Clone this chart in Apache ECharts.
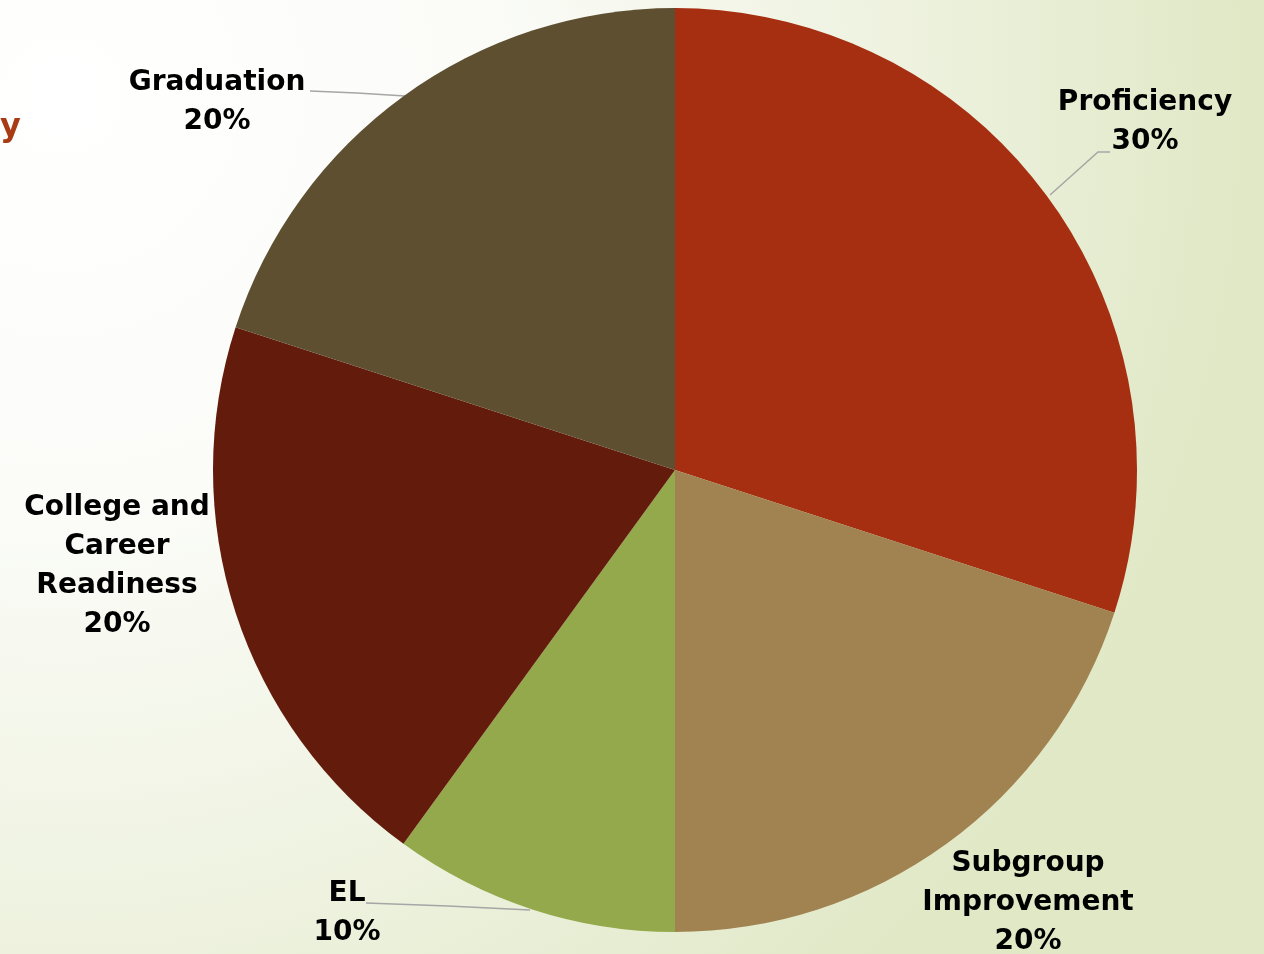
<!DOCTYPE html>
<html><head><meta charset="utf-8">
<script src="https://cdn.jsdelivr.net/npm/echarts@6/dist/echarts.min.js"></script>
<style>html,body{margin:0;padding:0;}#c{width:1264px;height:954px;}</style>
</head><body><div id="c"></div>
<script>
const categories = ['Proficiency', 'Subgroup\nImprovement', 'EL', 'College and\nCareer\nReadiness', 'Graduation'];
const values = [30, 20, 10, 20, 20];
const colors = ['#A52F10', '#A08350', '#93A94C', '#631B0C', '#5E4F31'];
const showLines = [true, false, true, false, true];
const labelPos = [[1145, 122], [1028, 903], [347, 913], [117, 566], [217, 102]];
const linePts = [
  [[1050, 195], [1098, 152], [1110, 152]],
  null,
  [[530, 910], [448, 906], [366, 903]],
  null,
  [[405, 96], [357, 93], [310, 91]]
];

const chart = echarts.init(document.getElementById('c'));
chart.setOption({
  backgroundColor: {
    type: 'radial', x: 0.05, y: 0.1, r: 1.25,
    colorStops: [{offset: 0, color: '#FFFFFF'}, {offset: 0.35, color: '#FBFCF8'}, {offset: 0.7, color: '#EEF2DF'}, {offset: 1, color: '#E0E8C6'}]
  },
  graphic: [{
    type: 'text', left: 0, top: 112,
    style: {text: 'y', fill: '#A83A14', font: 'bold 32px "DejaVu Sans"'}
  }],
  series: [{
    type: 'pie',
    center: [675, 470],
    radius: [0, 462],
    startAngle: 90,
    clockwise: true,
    animation: false,
    label: {
      show: true,
      formatter: p => p.name + '\n' + p.value + '%',
      color: '#000', fontWeight: 'bold', fontSize: 28, lineHeight: 39,
      fontFamily: '"DejaVu Sans"', align: 'center'
    },
    labelLine: {lineStyle: {color: '#A6A6A6', width: 1.5}, length: 10, length2: 10},
    labelLayout: p => {
      const o = {x: labelPos[p.dataIndex][0], y: labelPos[p.dataIndex][1], align: 'center', verticalAlign: 'middle'};
      if (linePts[p.dataIndex]) o.labelLinePoints = linePts[p.dataIndex];
      return o;
    },
    data: categories.map((c, i) => ({
      name: c, value: values[i],
      itemStyle: {color: colors[i]},
      labelLine: {show: showLines[i]}
    }))
  }]
});
</script></body></html>
